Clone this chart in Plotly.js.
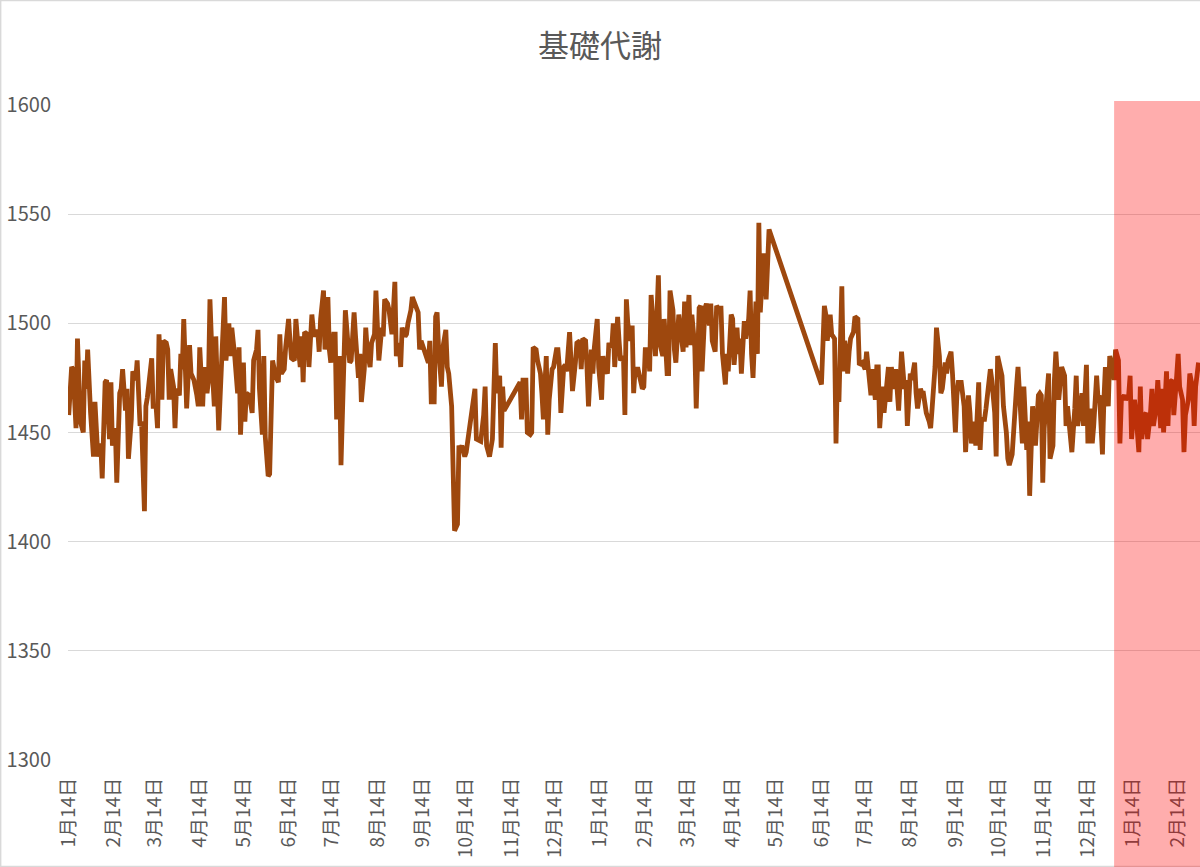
<!DOCTYPE html>
<html>
<head>
<meta charset="utf-8">
<script src="https://cdn.plot.ly/plotly-3.0.1.min.js"></script>
<style>
    html, body { margin: 0; padding: 0; background: #ffffff; }
    #myDiv { width: 1200px; height: 867px; }
</style>
</head>
<body>
<div id="myDiv"></div>
<script>
// Ngày bắt đầu (ngày 0) của chuỗi số liệu
var startDate = '2019-01-14';

// Số ngày tính từ startDate
var days = [
    0, 2, 3, 5, 6, 8, 10, 11, 12, 13, 15, 17, 18, 20, 22, 23, 25, 26, 28, 29,
    30, 32, 33, 35, 36, 37, 39, 40, 41, 43, 44, 46, 47, 49, 50, 52, 53, 54, 57, 58,
    60, 61, 62, 64, 65, 67, 68, 69, 70, 72, 73, 74, 76, 77, 78, 79, 81, 83, 84, 86,
    88, 89, 90, 92, 93, 95, 96, 97, 99, 100, 101, 103, 105, 107, 108, 110, 111, 112, 114, 115,
    116, 117, 118, 120, 121, 122, 124, 126, 127, 129, 130, 131,
    133, 134, 135, 137, 138, 140, 141, 142, 144, 145, 146, 148, 149, 151, 152, 153, 155, 156, 157, 159,
    160, 161, 162, 164, 165, 167, 168, 169, 171, 172, 173, 175, 176, 178, 179, 180, 182, 183, 184, 186,
    187, 189, 190, 192, 193, 194, 196, 197, 199, 200, 201, 203, 204, 205, 207, 208, 210, 211, 212, 213,
    215, 216, 217, 219, 220, 222, 223, 224, 225, 227, 228, 229, 231, 232, 233, 235, 236, 238, 240, 241,
    242, 244, 245, 247, 248, 249, 251, 252, 253, 254, 256, 257, 259, 260, 261, 263, 265, 267, 268, 269,
    270, 272, 273, 275,
    277, 279, 280, 282, 283, 285, 286, 287, 289, 291, 293, 294, 296, 297, 298, 299, 310, 311, 312, 314,
    315, 317, 318, 319, 321, 322, 324, 325, 326, 328, 329, 330, 332, 333, 335, 336, 337, 338, 340, 341,
    342, 344, 345, 346, 348, 349, 351, 352, 353, 355, 356, 357, 359, 360, 361, 363, 364, 366, 367, 368,
    370, 371, 373, 374, 375, 377, 378, 379, 381, 382, 383, 384, 386, 387, 388, 389, 391, 392, 394, 395,
    396, 398, 399, 400, 402, 403, 405, 406, 408, 409, 411, 412, 413, 415, 416, 417, 419,
    420, 422, 423, 424, 426, 427, 428, 430, 431, 433, 434, 435, 437, 438, 440, 441, 442, 444, 445, 446,
    448, 449, 451, 452, 453, 455, 456, 457, 459, 460, 461, 462, 464, 465, 467, 468, 469, 470, 472, 473,
    474, 475, 477, 478, 479, 480, 481, 517, 519, 520, 521, 523, 524, 526, 527, 528, 529, 531, 532, 533,
    535, 536, 537, 539, 540, 542,
    543, 545, 547, 548, 549, 551, 552, 554, 555, 556, 557, 559, 560, 561, 563, 564, 565, 567, 568, 570,
    571, 572, 574, 575, 576, 578, 579, 581, 582, 583, 585, 586, 587, 589, 591, 592, 593, 595, 596, 598,
    599, 600, 602, 603, 604, 606, 607, 609, 610, 611, 613, 614, 615, 616, 618, 619, 620, 622, 623, 625,
    626, 627, 629, 630, 631, 633, 634, 636, 637, 638, 640, 641, 642, 644, 645, 646, 648, 649, 651, 652,
    653, 655, 656, 658, 659, 660, 662, 663, 664, 666, 667,
    668, 669, 670, 672, 673, 674, 676, 677, 678, 680, 681, 682, 684, 685, 686, 688, 689, 691, 692, 693,
    695, 696, 697, 699, 700, 702, 703, 704, 706, 707, 708, 710, 711, 712, 714, 715, 717, 718, 719, 721,
    722, 723, 725, 726, 728, 729, 730, 732, 733, 735, 736, 737, 739, 740, 741, 743, 744, 745, 747, 748,
    750, 751, 752, 754, 755, 756, 758, 759, 761, 762, 763, 765, 766, 767, 769, 770, 772, 773, 774, 776
];

// Giá trị 基礎代謝 (kcal)
var values = [
    1458, 1480, 1479, 1452, 1493, 1455, 1450, 1483, 1470, 1488, 1459, 1439, 1464, 1439, 1445, 1429, 1473, 1474, 1447, 1473,
    1444, 1452, 1427, 1468, 1470, 1479, 1460, 1470, 1438, 1456, 1478, 1474, 1483, 1453, 1455, 1414, 1462, 1466, 1484, 1462,
    1462, 1452, 1495, 1465, 1492, 1491, 1488, 1465, 1479, 1471, 1452, 1470, 1467, 1486, 1479, 1502, 1461, 1490, 1477, 1474,
    1467, 1462, 1489, 1462, 1480, 1468, 1474, 1511, 1474, 1462, 1494, 1451, 1482, 1512, 1483, 1500, 1485, 1498, 1485, 1479,
    1468, 1489, 1449, 1482, 1455, 1468, 1467, 1459, 1483, 1488, 1497, 1470,
    1449, 1485, 1448, 1430, 1431, 1483, 1479, 1476, 1473, 1495, 1477, 1479, 1489, 1502, 1492, 1484, 1483, 1502, 1494, 1480,
    1494, 1473, 1496, 1495, 1480, 1504, 1497, 1494, 1497, 1487, 1502, 1515, 1488, 1512, 1488, 1482, 1495, 1495, 1456, 1485,
    1435, 1494, 1506, 1489, 1482, 1483, 1505, 1494, 1475, 1486, 1464, 1479, 1498, 1488, 1480, 1491, 1495, 1515, 1494, 1483,
    1498, 1494, 1511, 1509, 1506, 1495, 1506, 1519, 1485, 1491, 1480, 1498, 1494, 1495, 1500, 1506, 1512, 1509, 1505, 1488,
    1492, 1488, 1486, 1482, 1492, 1464, 1464, 1503, 1505, 1489, 1471, 1489, 1497, 1480, 1477, 1462, 1405, 1408, 1444, 1442,
    1444, 1439, 1441, 1452,
    1459, 1470, 1447, 1446, 1446, 1458, 1471, 1444, 1439, 1447, 1491, 1468, 1476, 1443, 1471, 1460, 1473, 1456, 1474, 1474,
    1450, 1449, 1450, 1489, 1488, 1483, 1477, 1468, 1456, 1485, 1449, 1465, 1479, 1480, 1488, 1488, 1480, 1459, 1480, 1481,
    1478, 1496, 1483, 1469, 1482, 1491, 1492, 1479, 1493, 1492, 1479, 1462, 1488, 1477, 1489, 1502, 1480, 1465, 1485, 1480,
    1477, 1491, 1489, 1500, 1480, 1503, 1492, 1483, 1485, 1458, 1511, 1500, 1492, 1499, 1468, 1479, 1479, 1476, 1470, 1471,
    1488, 1488, 1478, 1513, 1492, 1485, 1522, 1491, 1485, 1502, 1477, 1477, 1515, 1506, 1488, 1482, 1504,
    1499, 1487, 1510, 1489, 1513, 1490, 1504, 1489, 1461, 1507, 1508, 1478, 1507, 1509, 1499, 1509, 1492, 1487, 1508, 1507,
    1507, 1486, 1472, 1486, 1478, 1504, 1502, 1481, 1498, 1486, 1493, 1477, 1501, 1493, 1502, 1515, 1486, 1475, 1510, 1486,
    1546, 1505, 1531, 1531, 1511, 1530, 1543, 1472, 1508, 1504, 1492, 1504, 1495, 1493, 1445, 1478, 1464, 1517, 1478, 1492,
    1477, 1487, 1493, 1496, 1503, 1502,
    1481, 1482, 1479, 1487, 1480, 1467, 1479, 1465, 1480, 1480, 1452, 1471, 1459, 1468, 1480, 1464, 1480, 1470, 1479, 1460,
    1474, 1487, 1470, 1474, 1453, 1477, 1474, 1482, 1468, 1461, 1470, 1468, 1468, 1459, 1455, 1452, 1461, 1480, 1498, 1485,
    1468, 1470, 1482, 1477, 1483, 1487, 1477, 1450, 1467, 1473, 1473, 1465, 1462, 1441, 1467, 1459, 1445, 1455, 1444, 1473,
    1442, 1456, 1456, 1461, 1467, 1479, 1474, 1459, 1439, 1485, 1479, 1476, 1462, 1450, 1438, 1435, 1440, 1453, 1471, 1480,
    1467, 1445, 1471, 1442, 1455, 1421, 1462, 1448, 1444, 1467, 1468,
    1467, 1427, 1452, 1467, 1477, 1438, 1444, 1474, 1487, 1465, 1474, 1480, 1476, 1453, 1462, 1447, 1441, 1461, 1476, 1453,
    1465, 1468, 1453, 1481, 1445, 1461, 1445, 1453, 1476, 1465, 1467, 1440, 1465, 1480, 1462, 1485, 1480, 1474, 1488, 1483,
    1445, 1465, 1467, 1465, 1467, 1476, 1447, 1465, 1459, 1441, 1471, 1447, 1458, 1459, 1447, 1459, 1470, 1453, 1462, 1474,
    1452, 1470, 1450, 1478, 1453, 1473, 1474, 1458, 1476, 1486, 1471, 1465, 1441, 1458, 1465, 1477, 1470, 1453, 1471, 1482
];

// Nhãn trục x (ngày 14 mỗi tháng)
var tickDates = [
    '2019-01-14', '2019-02-14', '2019-03-14', '2019-04-14', '2019-05-14', '2019-06-14',
    '2019-07-14', '2019-08-14', '2019-09-14', '2019-10-14', '2019-11-14', '2019-12-14',
    '2020-01-14', '2020-02-14', '2020-03-14', '2020-04-14', '2020-05-14', '2020-06-14',
    '2020-07-14', '2020-08-14', '2020-09-14', '2020-10-14', '2020-11-14', '2020-12-14',
    '2021-01-14', '2021-02-14'
];
var tickLabels = [
    '1月14日', '2月14日', '3月14日', '4月14日', '5月14日', '6月14日',
    '7月14日', '8月14日', '9月14日', '10月14日', '11月14日', '12月14日',
    '1月14日', '2月14日', '3月14日', '4月14日', '5月14日', '6月14日',
    '7月14日', '8月14日', '9月14日', '10月14日', '11月14日', '12月14日',
    '1月14日', '2月14日'
];
var yTicks = [1300, 1350, 1400, 1450, 1500, 1550, 1600];

// Vùng tô đỏ (từ 1/1 năm mới đến hết dữ liệu)
var highlightStart = '2021-01-01';
var rangeStart = '2019-01-13 12:00';
var rangeEnd = '2021-03-01';

// Đổi số ngày sang chuỗi ngày
var t0 = Date.parse(startDate + 'T00:00:00Z');
var dates = days.map(function(d) {
    return new Date(t0 + d * 86400000).toISOString().slice(0, 10);
});

var data_bmr = [
    {
        x: dates,
        y: values,
        type: 'scatter',
        mode: 'lines',
        line: { color: '#9E480E', width: 4.8, shape: 'linear' },
        hoverinfo: 'x+y'
    }
];

var textColor = '#595959';
var fontJP = '"Noto Sans CJK JP", "Noto Sans", sans-serif';

var layout = {
    width: 1200,
    height: 867,
    margin: { t: 105, r: 0, l: 68, b: 107 },
    paper_bgcolor: '#ffffff',
    plot_bgcolor: '#ffffff',
    showlegend: false,
    font: { color: textColor, family: fontJP },
    title: {
        text: '基礎代謝',
        font: { size: 31, color: textColor, family: fontJP },
        x: 0.5,
        xref: 'container',
        y: 0.947,
        yref: 'container',
        yanchor: 'middle'
    },
    xaxis: {
        type: 'date',
        range: [rangeStart, rangeEnd],
        tickmode: 'array',
        tickvals: tickDates,
        ticktext: tickLabels,
        tickangle: -90,
        tickfont: { size: 19, color: textColor, family: fontJP },
        showgrid: false,
        zeroline: false,
        showline: false,
        ticks: '',
        ticklabelstandoff: 13
    },
    yaxis: {
        range: [1300, 1600],
        tickmode: 'array',
        tickvals: yTicks,
        tickfont: { size: 20, color: textColor, family: fontJP },
        showgrid: true,
        gridcolor: '#D9D9D9',
        gridwidth: 1,
        zeroline: false,
        showline: false,
        ticks: '',
        ticklabelstandoff: 16
    },
    shapes: [
        {
            // khung biểu đồ
            type: 'rect',
            xref: 'paper', yref: 'paper',
            x0: -0.0595, x1: 1.01, y0: -0.1625, y1: 1.1595,
            line: { color: '#D9D9D9', width: 1.5 },
            fillcolor: 'rgba(0,0,0,0)',
            layer: 'below'
        },
        {
            // vùng tô đỏ
            type: 'rect',
            xref: 'x', yref: 'paper',
            x0: highlightStart, x1: rangeEnd,
            y0: -0.17, y1: 1.006,
            line: { width: 0 },
            fillcolor: 'rgba(255,0,0,0.32)',
            layer: 'above'
        }
    ]
};

Plotly.newPlot('myDiv', data_bmr, layout, { displayModeBar: false, responsive: false });
</script>
</body>
</html>
